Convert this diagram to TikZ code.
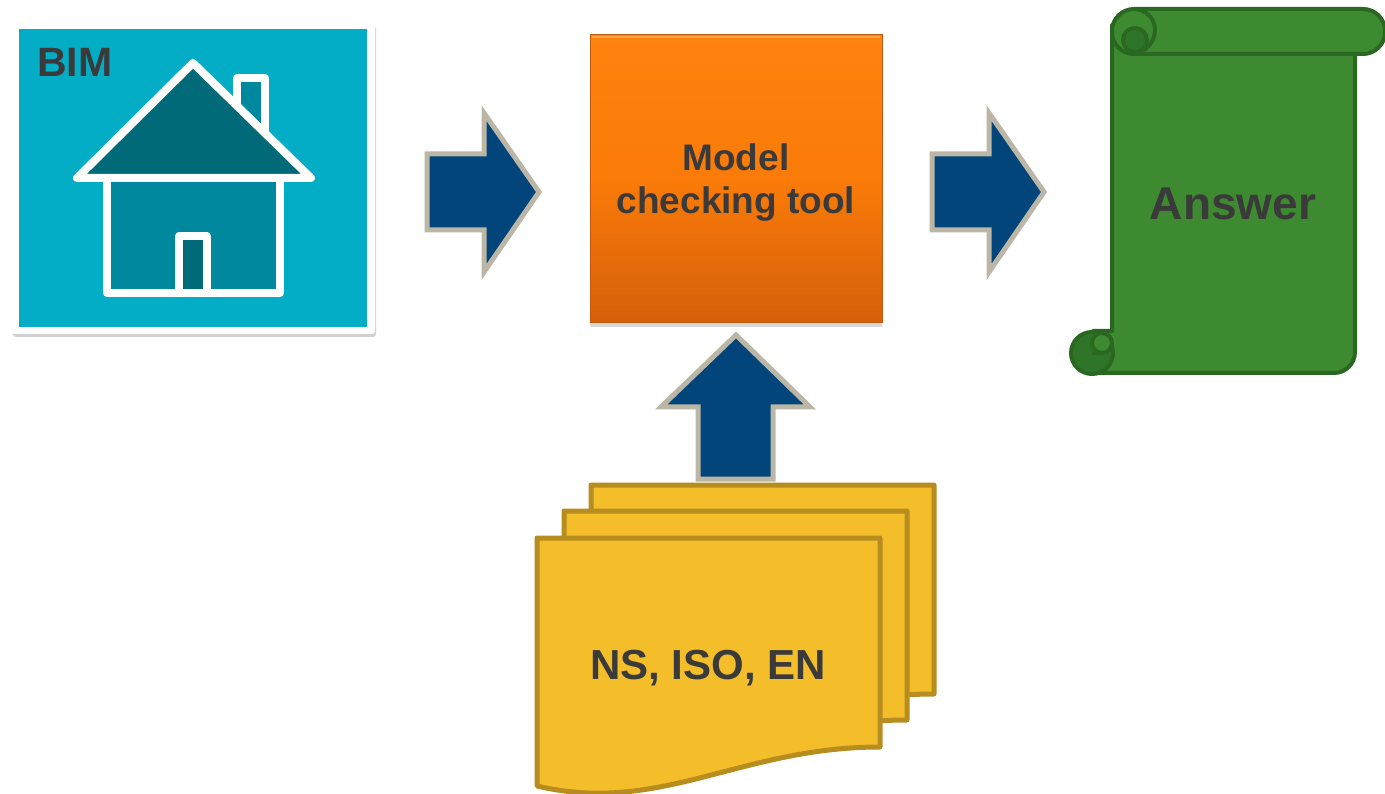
\documentclass[tikz,border=0pt]{standalone}
\usepackage{fontspec}
\setmainfont{Liberation Sans}
\usetikzlibrary{shadows}
\definecolor{bgteal}{HTML}{02ADC5}
\definecolor{housebody}{HTML}{00889E}
\definecolor{houseroof}{HTML}{006A78}
\definecolor{arrowfill}{HTML}{02457A}
\definecolor{arrowedge}{HTML}{BBB6A6}
\definecolor{orangetop}{HTML}{FF830E}
\definecolor{orangemid}{HTML}{FA7B08}
\definecolor{orangebot}{HTML}{D65F0A}
\definecolor{orangeedge}{HTML}{C45A0E}
\definecolor{orangelight}{HTML}{FFA348}
\definecolor{scrollfill}{HTML}{3E8A31}
\definecolor{scrolldark}{HTML}{2F7529}
\definecolor{scrolledge}{HTML}{2A6822}
\definecolor{docfill}{HTML}{F4BD2A}
\definecolor{docedge}{HTML}{B88D1F}
\definecolor{txt}{HTML}{3A3A3A}
\begin{document}
\begin{tikzpicture}[x=1pt,y=-1pt,
  lbl/.style={text=txt, inner sep=0pt},
  blockarrow/.style={fill=arrowfill, draw=arrowedge, line width=5pt, line join=miter},
  houseline/.style={draw=white, line width=8pt, line join=round, line cap=round},
  docpage/.style={fill=docfill, draw=docedge, line width=5pt, line join=round},
  scrollline/.style={draw=scrolledge, line width=4pt, line join=round},
]
\fill[white] (0,0) rectangle (1385,794);
\useasboundingbox (0,0) rectangle (1385,794);

% ---------- BIM ----------
\node[fill=white, rounded corners=3pt, minimum width=363pt, minimum height=311pt, inner sep=0pt,
      drop shadow={shadow xshift=1pt, shadow yshift=-3pt, opacity=0.35}] (bimframe) at (193.5,178.5) {};
\node[fill=bgteal, minimum width=348pt, minimum height=298pt, inner sep=0pt] (bim) at (193,178) {};
\filldraw[houseline, fill=housebody] (237,78) rectangle (265,145);
\filldraw[houseline, fill=houseroof] (77,178) -- (193,63) -- (311,178) -- cycle;
\filldraw[houseline, fill=housebody] (107,178) rectangle (280,293);
\filldraw[houseline, fill=houseroof] (179,236) rectangle (207,293);
\node[lbl, anchor=base west, font=\bfseries\fontsize{41}{49}\selectfont] (bimlabel) at (37,77) {BIM};

% ---------- Model checking tool ----------
\node[top color=orangetop, bottom color=orangebot, middle color=orangemid, draw=orangeedge, line width=1pt,
      minimum width=292pt, minimum height=288pt, inner sep=0pt,
      drop shadow={shadow xshift=0pt, shadow yshift=-4pt, opacity=0.3}] (tool) at (736,179) {};
\draw[orangelight, line width=2pt] (592,37) -- (880,37);
\node[lbl, align=center, font=\bfseries\fontsize{37}{43}\selectfont] (toollabel) at (736,183) {Model\\checking tool};

% ---------- arrows ----------
\draw[blockarrow] (427,154) -- (484,154) -- (484,113) -- (539,192) -- (484,272) -- (484,230) -- (427,230) -- cycle;
\draw[blockarrow] (932,154) -- (989,154) -- (989,113) -- (1044,192) -- (989,272) -- (989,230) -- (932,230) -- cycle;
\draw[blockarrow] (698,479) -- (698,407) -- (661,407) -- (736,335) -- (810,407) -- (773,407) -- (773,479) -- cycle;

% ---------- Answer scroll ----------
\filldraw[scrollline, fill=scrollfill] (1112,331) -- (1112,25) -- (1355,25) -- (1355,352)
   .. controls (1355,363.6) and (1345.6,373) .. (1334,373) -- (1093,373) -- (1093,331) -- cycle;
\filldraw[scrollline, fill=scrollfill, rounded corners=22pt] (1112,9) rectangle (1385,54);
\draw[scrollline] (1134,9) .. controls (1145.6,9) and (1155,18.4) .. (1155,30) .. controls (1155,41.6) and (1145.6,53) .. (1134,53);
\filldraw[scrollline, fill=scrolldark] (1135,40) circle (12);
\filldraw[scrollline, fill=scrolldark] (1092,353) circle (21);
\filldraw[scrollline, fill=scrollfill] (1102,343) circle (10);
\draw[scrollline] (1092,353) -- (1102,353);
\node[lbl, anchor=base, font=\bfseries\fontsize{46}{55}\selectfont] (answer) at (1233,220) {Answer};

% ---------- standards documents ----------
\foreach \dx/\dy in {54/-53, 27/-27, 0/0}{
  \draw[docpage, shift={(\dx,\dy)}] (537,538) -- (880,538) -- (880,747)
     .. controls (740,747) and (660,815) .. (537,786) -- cycle;
}
\node[lbl, anchor=base, font=\bfseries\fontsize{42}{50}\selectfont] (docs) at (708,679) {NS, ISO, EN};
\end{tikzpicture}
\end{document}
